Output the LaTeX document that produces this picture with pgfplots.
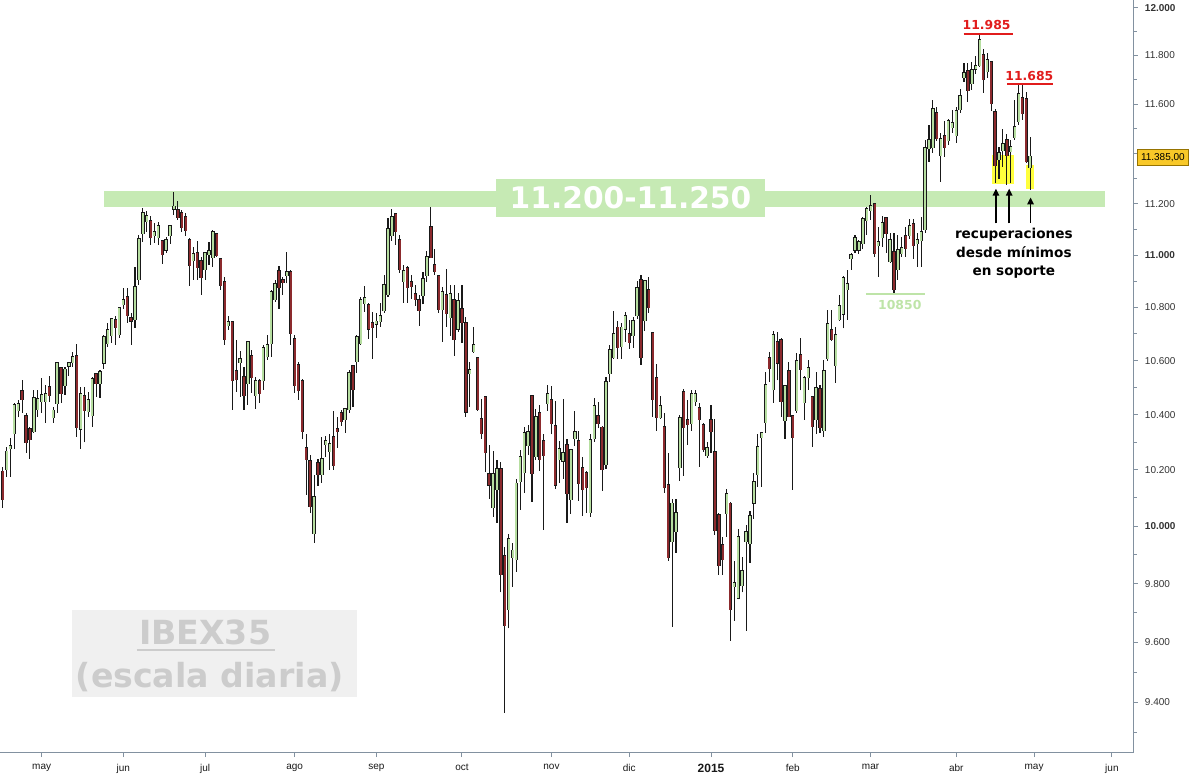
\documentclass[border=0pt]{standalone}
\usepackage{pgfplots}
\pgfplotsset{compat=1.18}
\usepackage{pgfplotstable}
\usepackage{fontspec}
\setmainfont{Liberation Sans}
\newfontfamily\dvs{DejaVu Sans}
\usetikzlibrary{arrows.meta}
\definecolor{candleup}{RGB}{182,222,160}
\definecolor{candledn}{RGB}{140,42,45}
\definecolor{wick}{RGB}{25,25,25}
\definecolor{bandgreen}{RGB}{198,234,180}
\definecolor{lowgreen}{RGB}{190,228,168}
\definecolor{annred}{RGB}{225,28,28}
\definecolor{hlyellow}{RGB}{255,255,60}
\definecolor{tagfill}{RGB}{248,200,40}
\definecolor{tagdraw}{RGB}{150,115,0}
\definecolor{axisgray}{RGB}{130,145,160}
\definecolor{wmgray}{RGB}{204,204,204}
\definecolor{wmbox}{RGB}{240,240,240}

\pgfplotstableread{
i o h l c
-10 10191 10212 10066 10098
-9 10205 10281 10176 10263
-8 10280 10317 10176 10284
-7 10335 10444 10277 10433
-6 10419 10455 10390 10437
-5 10485 10529 10408 10459
-4 10393 10408 10262 10302
-3 10346 10357 10241 10313
-2 10342 10492 10335 10459
-1 10422 10492 10393 10455
0 10452 10537 10408 10470
1 10452 10511 10371 10474
2 10500 10544 10448 10474
3 10393 10430 10371 10412
4 10444 10596 10408 10589
5 10570 10577 10444 10481
6 10511 10577 10474 10563
7 10583 10596 10544 10587
8 10596 10633 10577 10611
9 10615 10663 10320 10357
10 10350 10503 10277 10474
11 10466 10503 10299 10419
12 10415 10485 10393 10452
13 10400 10540 10357 10529
14 10548 10555 10466 10518
15 10518 10566 10463 10555
16 10593 10697 10570 10686
17 10667 10742 10652 10712
18 10697 10757 10667 10754
19 10750 10769 10659 10727
20 10701 10803 10686 10795
21 10814 10875 10795 10826
22 10837 10875 10742 10773
23 10756 10780 10659 10752
24 10757 10956 10723 10875
25 10910 11080 10887 11060
26 11088 11185 11053 11162
27 11134 11174 11091 11150
28 11130 11154 11041 11072
29 11080 11127 11049 11088
30 11072 11130 11041 11111
31 11053 11060 10967 11006
32 11025 11072 11010 11056
33 11080 11119 11045 11111
34 11182 11249 11158 11187
35 11174 11213 11138 11150
36 11162 11178 11091 11111
37 11146 11166 11076 11099
38 11056 11068 10883 10963
39 10983 11033 10906 11002
40 11006 11056 10906 10956
41 10975 10994 10849 10917
42 10948 11014 10906 11006
43 11006 11053 10963 11014
44 10994 11099 10956 11088
45 11080 11088 10994 11002
46 10983 10987 10868 10887
47 10894 10917 10659 10682
48 10735 10769 10716 10742
49 10742 10745 10419 10529
50 10559 10678 10485 10533
51 10596 10637 10466 10603
52 10537 10577 10419 10474
53 10518 10674 10437 10667
54 10615 10641 10481 10540
55 10474 10540 10422 10522
56 10522 10533 10444 10481
57 10529 10659 10492 10644
58 10618 10697 10603 10656
59 10667 10868 10615 10856
60 10833 10906 10822 10887
61 10937 10960 10795 10879
62 10902 10917 10849 10898
63 10925 11014 10891 10933
64 10933 10944 10659 10705
65 10678 10697 10481 10511
66 10581 10593 10455 10492
67 10522 10533 10310 10342
68 10277 10328 10112 10241
69 10230 10255 10048 10073
70 9978 10183 9943 10101
71 10223 10241 10144 10187
72 10187 10320 10155 10237
73 10295 10324 10248 10302
74 10270 10331 10201 10291
75 10317 10415 10201 10219
76 10346 10393 10280 10342
77 10404 10419 10360 10379
78 10386 10426 10335 10419
79 10422 10566 10408 10551
80 10577 10585 10430 10496
81 10600 10697 10555 10686
82 10667 10841 10659 10826
83 10818 10883 10784 10833
84 10807 10818 10682 10720
85 10738 10784 10607 10727
86 10740 10780 10686 10744
87 10750 10818 10727 10765
88 10792 10925 10780 10883
89 10852 11146 10841 11099
90 11080 11181 11056 11146
91 11158 11166 11041 11095
92 11056 11080 10933 10948
93 10902 10963 10818 10937
94 10948 10960 10818 10879
95 10894 10925 10833 10883
96 10849 10887 10807 10833
97 10826 10849 10731 10792
98 10849 10937 10811 10906
99 10925 11018 10898 10991
100 11107 11189 10990 10994
101 10960 11025 10925 10941
102 10917 10925 10780 10795
103 10795 10879 10671 10856
104 10845 10948 10727 10780
105 10765 10887 10693 10849
106 10826 10887 10618 10682
107 10720 10856 10708 10822
108 10792 10887 10667 10746
109 10739 10765 10393 10412
110 10555 10593 10430 10562
111 10637 10727 10630 10656
112 10607 10615 10415 10422
113 10382 10459 10313 10335
114 10463 10466 10194 10266
115 10183 10291 10098 10148
116 10069 10270 10034 10183
117 10133 10234 10013 10201
118 10201 10230 9770 9835
119 9894 9929 9366 9660
120 9715 9974 9647 9953
121 9894 9940 9790 9912
122 9887 10166 9842 10148
123 10162 10273 10059 10244
124 10194 10357 10119 10331
125 10291 10364 10255 10335
126 10466 10474 10087 10190
127 10252 10422 10237 10389
128 10404 10437 10198 10241
129 10302 10328 9988 10255
130 10444 10511 10415 10474
131 10452 10507 10328 10371
132 10357 10452 10133 10148
133 10241 10306 10155 10273
134 10234 10459 10169 10259
135 10288 10310 10013 10119
136 10098 10277 10044 10270
137 10317 10415 10288 10335
138 10302 10339 10091 10155
139 10205 10248 10037 10133
140 10187 10198 10048 10140
141 10052 10328 10034 10306
142 10317 10463 10302 10430
143 10393 10448 10350 10371
144 10350 10360 10126 10205
145 10223 10540 10205 10518
146 10555 10659 10522 10637
147 10615 10788 10607 10697
148 10720 10750 10607 10652
149 10656 10742 10607 10720
150 10720 10784 10671 10765
151 10697 10754 10644 10671
152 10697 10765 10648 10746
153 10773 10902 10757 10871
154 10902 10925 10585 10615
155 10754 10906 10712 10898
156 10864 10917 10780 10803
157 10701 10708 10393 10459
158 10533 10589 10342 10393
159 10393 10470 10386 10430
160 10353 10408 10119 10140
161 10144 10262 9880 9894
162 9950 10098 9653 10077
163 9985 10098 9908 10044
164 10212 10400 10162 10386
165 10481 10496 10180 10357
166 10379 10455 10291 10368
167 10371 10492 10342 10474
168 10452 10489 10433 10474
169 10422 10444 10212 10386
170 10360 10371 10266 10277
171 10255 10302 10244 10277
172 10379 10437 10262 10342
173 10262 10386 9971 9988
174 10037 10048 9832 9866
175 9932 9964 9832 9887
176 10048 10133 9964 10112
177 10077 10084 9606 9715
178 9794 9877 9674 9800
179 9753 9992 9746 9960
180 9797 9894 9770 9842
181 9950 10006 9640 9978
182 9943 10055 9873 10034
183 10084 10190 10027 10155
184 10187 10328 10140 10280
185 10320 10335 10140 10331
186 10375 10559 10335 10507
187 10607 10633 10522 10574
188 10496 10712 10444 10693
189 10667 10708 10526 10593
190 10674 10686 10393 10452
191 10382 10511 10313 10503
192 10559 10596 10393 10397
193 10393 10400 10130 10320
194 10419 10630 10408 10596
195 10618 10686 10489 10570
196 10448 10544 10382 10533
197 10540 10603 10492 10570
198 10463 10470 10284 10360
199 10386 10559 10331 10496
200 10492 10511 10335 10357
201 10346 10603 10320 10559
202 10611 10792 10600 10735
203 10712 10792 10674 10682
204 10585 10727 10518 10693
205 10757 10849 10750 10803
206 10777 10921 10720 10910
207 10871 10944 10754 10887
208 10991 11010 10944 10998
209 11025 11080 11010 11064
210 11022 11060 11006 11049
211 11049 11150 11022 11138
212 11138 11189 11080 11178
213 11178 11237 11138 11189
214 11197 11205 10994 11010
215 11041 11111 10917 11049
216 11072 11154 11033 11123
217 11142 11150 11010 11088
218 10979 11088 10971 11056
219 11010 11088 10856 10871
220 10948 11080 10906 11018
221 11010 11072 10994 11025
222 11072 11111 10994 11029
223 11080 11142 11064 11111
224 11119 11142 10987 11041
225 11049 11088 10956 11056
226 11060 11150 10956 11088
227 11103 11456 11088 11420
228 11424 11517 11368 11452
229 11428 11618 11404 11577
230 11561 11590 11452 11464
231 11396 11484 11288 11456
232 11468 11533 11388 11428
233 11456 11541 11436 11529
234 11509 11577 11484 11521
235 11476 11590 11444 11569
236 11581 11663 11565 11630
237 11713 11770 11692 11725
238 11733 11770 11610 11659
239 11688 11774 11659 11737
240 11746 11799 11725 11754
241 11762 11887 11754 11862
242 11799 11828 11647 11704
243 11737 11811 11708 11778
244 11770 11774 11573 11606
245 11565 11581 11284 11356
246 11380 11428 11300 11400
247 11416 11500 11348 11436
248 11452 11480 11276 11396
249 11412 11456 11284 11424
250 11468 11618 11456 11504
251 11533 11685 11517 11638
252 11622 11685 11537 11565
253 11618 11651 11364 11372
254 11348 11468 11256 11385
}\ohlc

\begin{document}
\begin{tikzpicture}
\begin{axis}[
  at={(0pt,0pt)}, anchor=south west,
  scale only axis, width=566.75pt, height=376.5pt,
  xmin=-10.694, xmax=280.55,
  ymode=log, ymin=9235.2, ymax=12033.8,
  clip=false,
  axis x line*=bottom, axis y line*=right,
  axis line style={draw=axisgray, line width=0.7pt},
  tick align=outside,
  major tick length=2.2pt, minor tick length=1.6pt,
  tick style={draw=axisgray, line width=0.5pt},
  xtick={0,21,42,65,86,108,131,151,172,193,213,235,255,275},
  xticklabels={may,jun,jul,ago,sep,oct,nov,dic,{\bfseries\fontsize{6}{7}\selectfont 2015},feb,mar,abr,may,jun},
  ytick={9400,9600,9800,10000,10200,10400,10600,10800,11000,11200,11400,11600,11800,12000},
  yticklabels={9.400,9.600,9.800,\textbf{10.000},10.200,10.400,10.600,10.800,\textbf{11.000},11.200,{},11.600,11.800,\textbf{12.000}},
  minor ytick={9300,9500,9700,9900,10100,10300,10500,10700,10900,11100,11300,11500,11700,11900},
  xticklabel style={font=\fontsize{5}{6}\selectfont, text=black!90},
  yticklabel style={font=\fontsize{5}{6}\selectfont, text=black!80},
  candle/.style={draw=none, no marks,
    error bars/.cd, y dir=plus, y explicit, error mark=none},
]
% background annotations
\fill[bandgreen] (axis cs:16.03,11188) rectangle (axis cs:273.2,11250);
\fill[hlyellow] (axis cs:244.3,11280) rectangle (axis cs:249.8,11396);
\fill[hlyellow] (axis cs:252.9,11260) rectangle (axis cs:255.0,11356);
\fill[wmbox] (axis cs:7.81,9419) rectangle (axis cs:81.03,9711.5);

% wicks
\addplot[candle, error bar style={line width=0.55pt, draw=wick}]
  table[x=i, y=l, y error expr=\thisrow{h}-\thisrow{l}] {\ohlc};
% up bodies
\addplot[restrict expr to domain={\thisrow{c}-\thisrow{o}}{0:100000},
  candle, error bar style={line width=1.7pt, line cap=rect, draw=wick}]
  table[x=i, y=o, y error expr=\thisrow{c}-\thisrow{o}] {\ohlc};
\addplot[restrict expr to domain={\thisrow{c}-\thisrow{o}}{0:100000},
  candle, error bar style={line width=1.0pt, line cap=rect, draw=candleup}]
  table[x=i, y=o, y error expr=\thisrow{c}-\thisrow{o}] {\ohlc};
% down bodies
\addplot[restrict expr to domain={\thisrow{o}-\thisrow{c}}{0.1:100000},
  candle, error bar style={line width=1.7pt, line cap=rect, draw=wick}]
  table[x=i, y=c, y error expr=\thisrow{o}-\thisrow{c}] {\ohlc};
\addplot[restrict expr to domain={\thisrow{o}-\thisrow{c}}{0.1:100000},
  candle, error bar style={line width=1.0pt, line cap=rect, draw=candledn}]
  table[x=i, y=c, y error expr=\thisrow{o}-\thisrow{c}] {\ohlc};

% foreground annotations
\node[fill=bandgreen, inner sep=0pt, minimum width=134.5pt, minimum height=19pt,
  text=white, font=\dvs\bfseries\fontsize{14.85}{16}\selectfont]
  at (axis cs:151.3,11225) {11.200-11.250};
\draw[lowgreen, line width=1pt] (axis cs:211.8,10850) -- (axis cs:226.9,10850);
\node[text=lowgreen, font=\dvs\bfseries\fontsize{6.2}{7}\selectfont]
  at (axis cs:220.5,10811) {10850};
\node[text=annred, font=\dvs\bfseries\fontsize{6.2}{7}\selectfont]
  at (axis cs:242.8,11929) {11.985};
\draw[annred, line width=1pt] (axis cs:236.9,11891) -- (axis cs:249.5,11891);
\node[text=annred, font=\dvs\bfseries\fontsize{6.2}{7}\selectfont]
  at (axis cs:253.8,11717) {11.685};
\draw[annred, line width=1pt] (axis cs:248.1,11684) -- (axis cs:259.8,11684);
\draw[-{Triangle[length=3.4pt,width=3.2pt]}, line width=0.7pt, black]
  (axis cs:245.2,11124) -- (axis cs:245.2,11260);
\draw[-{Triangle[length=3.4pt,width=3.2pt]}, line width=0.7pt, black]
  (axis cs:248.6,11124) -- (axis cs:248.6,11260);
\draw[-{Triangle[length=3.4pt,width=3.2pt]}, line width=0.7pt, black]
  (axis cs:254.1,11126) -- (axis cs:254.1,11225);
\node[align=center, font=\dvs\bfseries\fontsize{6.8}{9.3}\selectfont]
  at (axis cs:249.8,11006) {recuperaciones\\desde mínimos\\en soporte};
\node[anchor=base, inner sep=0pt, text=wmgray, font=\dvs\bfseries\fontsize{16.6}{18}\selectfont]
  at (axis cs:42.0,9592.7) {IBEX35};
\draw[wmgray, line width=1pt] (axis cs:24.5,9575.9) -- (axis cs:60.0,9575.9);
\node[anchor=base, inner sep=0pt, text=wmgray, font=\dvs\bfseries\fontsize{16.6}{18}\selectfont]
  at (axis cs:43.2,9448.8) {(escala diaria)};
\node[anchor=west, xshift=1.75pt, fill=tagfill, draw=tagdraw, line width=0.4pt,
  inner xsep=1.8pt, inner ysep=0pt, minimum height=8pt, font=\fontsize{5}{6}\selectfont]
  at (axis cs:280.55,11385) {11.385,00};
\end{axis}
\pgfresetboundingbox
\path[use as bounding box] (0pt,-11pt) rectangle (596.5pt,376.5pt);
\end{tikzpicture}
\end{document}
